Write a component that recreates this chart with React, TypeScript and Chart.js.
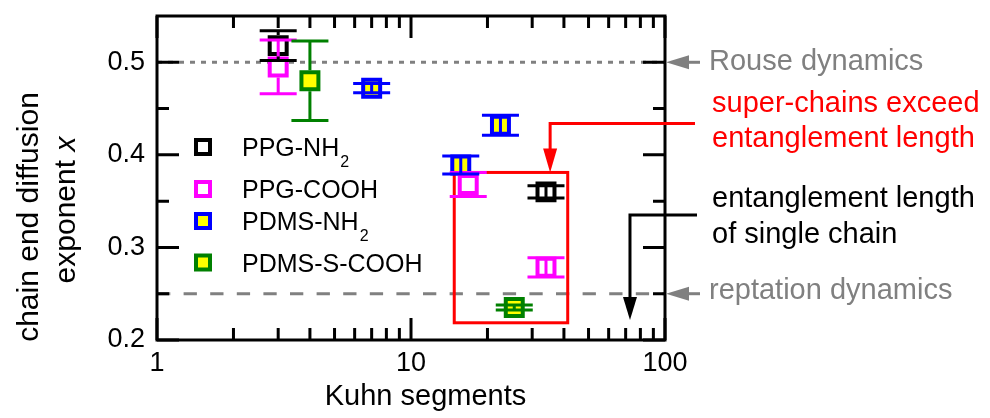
import React, { useEffect, useRef } from 'react';
import { Chart, registerables } from 'chart.js';

Chart.register(...registerables);

// ---------------- data ----------------
const SERIES_NAMES = ['PPG-NH', 'PPG-COOH', 'PDMS-NH', 'PDMS-S-COOH'];
const SERIES_SUBSCRIPTS = ['2', '', '2', ''];

const PPG_NH2_X = [3.0, 34.0];
const PPG_NH2_Y = [0.518, 0.36];
const PPG_NH2_ERR = [0.016, 0.0065];

const PPG_COOH_X = [3.0, 16.8, 34.0];
const PPG_COOH_Y = [0.495, 0.368, 0.2785];
const PPG_COOH_ERR = [0.029, 0.013, 0.0104];

const PDMS_NH2_X = [7.0, 15.7, 22.5];
const PDMS_NH2_Y = [0.472, 0.389, 0.432];
const PDMS_NH2_ERR = [0.005, 0.0098, 0.0108];

const PDMS_SCOOH_X = [4.0, 25.5];
const PDMS_SCOOH_Y = [0.48, 0.235];
const PDMS_SCOOH_ERR = [0.043, 0.0027];

const X_MAJOR_TICKS = [1, 10, 100];
const X_MINOR_TICKS = [2, 3, 4, 5, 6, 7, 8, 9, 20, 30, 40, 50, 60, 70, 80, 90];
const Y_MAJOR_TICKS = [0.2, 0.3, 0.4, 0.5];
const Y_MINOR_TICKS = [0.25, 0.35, 0.45];

const X_MIN = 1;
const X_MAX = 100;
const Y_MIN = 0.2;
const Y_MAX = 0.55;

const ROUSE_Y = 0.5;
const REPTATION_Y = 0.25;
const BOX_X = [14.8, 41.4];
const BOX_Y = [0.2186, 0.381];
const SUPER_ARROW_X = 35.3;
const SUPER_ARROW_Y = 0.434;
const ENT_ARROW_X = 72.8;
const ENT_ARROW_Y = 0.335;
const ENT_ARROW_TIP_Y = 0.2215;

const X_TITLE = 'Kuhn segments';
const Y_TITLE_1 = 'chain end diffusion';
const Y_TITLE_2 = 'exponent ';
const Y_TITLE_VAR = 'x';
const ROUSE_LABEL = 'Rouse dynamics';
const REPTATION_LABEL = 'reptation dynamics';
const SUPER_LABEL = ['super-chains exceed', 'entanglement length'];
const ENT_LABEL = ['entanglement length', 'of single chain'];

// ---------------- styles ----------------
const FONT = "'Liberation Sans', Arial, Helvetica, sans-serif";
const GRAY = '#808080';
const RED = '#ff0000';
const BORDERS = ['#000000', '#ff00ff', '#0000ff', '#008000'];
const FILLS = ['#ffffff', '#ffffff', '#ffff00', '#ffff00'];
const ERRS = [PPG_NH2_ERR, PPG_COOH_ERR, PDMS_NH2_ERR, PDMS_SCOOH_ERR];

function pts(xs: number[], ys: number[]) {
  return xs.map((x, i) => ({ x, y: ys[i] }));
}

function arrowHead(ctx: CanvasRenderingContext2D, tx: number, ty: number, dir: 'left' | 'down', len: number, hw: number, color: string) {
  ctx.fillStyle = color;
  ctx.beginPath();
  if (dir === 'left') {
    ctx.moveTo(tx, ty);
    ctx.lineTo(tx + len, ty - hw);
    ctx.lineTo(tx + len, ty + hw);
  } else {
    ctx.moveTo(tx, ty);
    ctx.lineTo(tx - hw, ty - len);
    ctx.lineTo(tx + hw, ty - len);
  }
  ctx.closePath();
  ctx.fill();
}

const customPlugin = {
  id: 'customDecor',
  beforeDatasetsDraw(chart: any) {
    const { ctx, chartArea: a, scales } = chart;
    const xs = scales.x;
    const ys = scales.y;
    ctx.save();
    ctx.lineWidth = 3;
    ctx.strokeStyle = GRAY;
    ctx.lineCap = 'butt';
    // Rouse (dotted)
    const yr = ys.getPixelForValue(ROUSE_Y);
    ctx.setLineDash([5, 6]);
    ctx.lineDashOffset = 0;
    ctx.beginPath();
    ctx.moveTo(a.left, yr);
    ctx.lineTo(a.right, yr);
    ctx.stroke();
    // reptation (dashed)
    const yp = ys.getPixelForValue(REPTATION_Y);
    ctx.setLineDash([13.3, 13.3]);
    ctx.beginPath();
    ctx.moveTo(a.left, yp);
    ctx.lineTo(a.right, yp);
    ctx.stroke();
    ctx.setLineDash([]);
    // red box
    const bx0 = xs.getPixelForValue(BOX_X[0]);
    const bx1 = xs.getPixelForValue(BOX_X[1]);
    const by0 = ys.getPixelForValue(BOX_Y[0]);
    const by1 = ys.getPixelForValue(BOX_Y[1]);
    ctx.strokeStyle = RED;
    ctx.strokeRect(bx0, by1, bx1 - bx0, by0 - by1);
    ctx.restore();
  },
  afterDatasetsDraw(chart: any) {
    const { ctx, chartArea: a, scales } = chart;
    const xs = scales.x;
    const ys = scales.y;
    ctx.save();

    // error bars
    const half = 10.5;
    const capHalf = 18.5;
    ctx.lineWidth = 3;
    chart.data.datasets.forEach((ds: any, di: number) => {
      const meta = chart.getDatasetMeta(di);
      ctx.strokeStyle = BORDERS[di];
      meta.data.forEach((el: any, i: number) => {
        const v = ds.data[i].y;
        const e = ERRS[di][i];
        const px = el.x;
        const py = el.y;
        const yt = ys.getPixelForValue(v + e);
        const yb = ys.getPixelForValue(v - e);
        ctx.beginPath();
        if (py - yt > half) {
          ctx.moveTo(px, yt);
          ctx.lineTo(px, py - half);
          ctx.moveTo(px, py + half);
          ctx.lineTo(px, yb);
        } else {
          ctx.moveTo(px, yt);
          ctx.lineTo(px, yb);
        }
        ctx.moveTo(px - capHalf, yt);
        ctx.lineTo(px + capHalf, yt);
        ctx.moveTo(px - capHalf, yb);
        ctx.lineTo(px + capHalf, yb);
        ctx.stroke();
      });
    });

    // frame
    ctx.strokeStyle = '#000';
    ctx.lineWidth = 3;
    ctx.strokeRect(a.left, a.top, a.right - a.left, a.bottom - a.top);

    // inward ticks
    const major = 22;
    const minor = 12;
    ctx.beginPath();
    const xt = (v: number, len: number) => {
      const p = xs.getPixelForValue(v);
      ctx.moveTo(p, a.bottom);
      ctx.lineTo(p, a.bottom - len);
      ctx.moveTo(p, a.top);
      ctx.lineTo(p, a.top + len);
    };
    const yt = (v: number, len: number) => {
      const p = ys.getPixelForValue(v);
      ctx.moveTo(a.left, p);
      ctx.lineTo(a.left + len, p);
      ctx.moveTo(a.right, p);
      ctx.lineTo(a.right - len, p);
    };
    X_MAJOR_TICKS.forEach((v) => xt(v, major));
    X_MINOR_TICKS.forEach((v) => xt(v, minor));
    Y_MAJOR_TICKS.forEach((v) => yt(v, major));
    Y_MINOR_TICKS.forEach((v) => yt(v, minor));
    ctx.stroke();

    // gray arrows (Rouse / reptation)
    const yr = ys.getPixelForValue(ROUSE_Y);
    const yp = ys.getPixelForValue(REPTATION_Y);
    ctx.strokeStyle = GRAY;
    ctx.lineWidth = 3;
    [yr, yp].forEach((yy) => {
      ctx.beginPath();
      ctx.moveTo(a.right + 20, yy);
      ctx.lineTo(a.right + 35, yy);
      ctx.stroke();
      arrowHead(ctx, a.right + 1, yy, 'left', 23, 7, GRAY);
    });

    // red arrow
    const sx = xs.getPixelForValue(SUPER_ARROW_X);
    const sy = ys.getPixelForValue(SUPER_ARROW_Y);
    const boxTop = ys.getPixelForValue(BOX_Y[1]);
    ctx.strokeStyle = RED;
    ctx.beginPath();
    ctx.moveTo(a.right + 30, sy);
    ctx.lineTo(sx, sy);
    ctx.lineTo(sx, boxTop - 20);
    ctx.stroke();
    arrowHead(ctx, sx, boxTop, 'down', 24, 7, RED);

    // black arrow
    const ex = xs.getPixelForValue(ENT_ARROW_X);
    const ey = ys.getPixelForValue(ENT_ARROW_Y);
    const etip = ys.getPixelForValue(ENT_ARROW_TIP_Y);
    ctx.strokeStyle = '#000';
    ctx.beginPath();
    ctx.moveTo(a.right + 32, ey);
    ctx.lineTo(ex, ey);
    ctx.lineTo(ex, etip - 20);
    ctx.stroke();
    arrowHead(ctx, ex, etip, 'down', 23, 7, '#000');

    // annotation texts
    ctx.font = `29px ${FONT}`;
    ctx.textBaseline = 'alphabetic';
    ctx.textAlign = 'left';
    const tx = a.right + 44;
    ctx.fillStyle = GRAY;
    ctx.fillText(ROUSE_LABEL, tx, yr + 8);
    ctx.fillText(REPTATION_LABEL, tx, yp + 5);
    ctx.fillStyle = RED;
    ctx.fillText(SUPER_LABEL[0], tx + 3, 111.5);
    ctx.fillText(SUPER_LABEL[1], tx + 3, 146.5);
    ctx.fillStyle = '#000';
    ctx.fillText(ENT_LABEL[0], tx + 3, 206.5);
    ctx.fillText(ENT_LABEL[1], tx + 3, 243);

    // legend
    const legendRows = [147, 189, 221, 262.5];
    ctx.lineWidth = 4;
    SERIES_NAMES.forEach((name, i) => {
      const cy = legendRows[i];
      ctx.fillStyle = FILLS[i];
      ctx.strokeStyle = BORDERS[i];
      ctx.fillRect(196, cy - 7, 14, 14);
      ctx.strokeRect(196, cy - 7, 14, 14);
      ctx.fillStyle = '#000';
      ctx.font = `25px ${FONT}`;
      ctx.fillText(name, 242, cy + 9);
      if (SERIES_SUBSCRIPTS[i]) {
        const w = ctx.measureText(name).width;
        ctx.font = `16px ${FONT}`;
        ctx.fillText(SERIES_SUBSCRIPTS[i], 242 + w + 1, cy + 20);
      }
    });

    // axis titles
    ctx.fillStyle = '#000';
    ctx.font = `29px ${FONT}`;
    ctx.textAlign = 'center';
    ctx.fillText(X_TITLE, 425.5, 405);

    ctx.save();
    ctx.translate(38, 217);
    ctx.rotate(-Math.PI / 2);
    ctx.font = `30px ${FONT}`;
    ctx.textAlign = 'center';
    ctx.fillText(Y_TITLE_1, 0, 0);
    ctx.restore();

    ctx.save();
    ctx.translate(75, 210);
    ctx.rotate(-Math.PI / 2);
    ctx.textAlign = 'left';
    ctx.font = `30px ${FONT}`;
    const w1 = ctx.measureText(Y_TITLE_2).width;
    ctx.font = `italic 30px ${FONT}`;
    const w2 = ctx.measureText(Y_TITLE_VAR).width;
    const start = -(w1 + w2) / 2;
    ctx.font = `30px ${FONT}`;
    ctx.fillText(Y_TITLE_2, start, 0);
    ctx.font = `italic 30px ${FONT}`;
    ctx.fillText(Y_TITLE_VAR, start + w1, 0);
    ctx.restore();

    ctx.restore();
  },
};

export default function App() {
  const ref = useRef<HTMLCanvasElement>(null);
  useEffect(() => {
    document.body.style.margin = '0';
    const datasets = [
      pts(PPG_NH2_X, PPG_NH2_Y),
      pts(PPG_COOH_X, PPG_COOH_Y),
      pts(PDMS_NH2_X, PDMS_NH2_Y),
      pts(PDMS_SCOOH_X, PDMS_SCOOH_Y),
    ].map((data, i) => ({
      label: SERIES_NAMES[i] + SERIES_SUBSCRIPTS[i],
      data,
      showLine: false,
      pointStyle: 'rect',
      pointRadius: 12,
      pointHoverRadius: 12,
      pointBorderWidth: 4,
      pointBorderColor: BORDERS[i],
      pointBackgroundColor: FILLS[i],
      borderColor: BORDERS[i],
      backgroundColor: FILLS[i],
    }));
    const chart = new Chart(ref.current as HTMLCanvasElement, {
      type: 'scatter',
      data: { datasets } as any,
      options: {
        animation: false,
        responsive: false,
        devicePixelRatio: 1,
        layout: { padding: { left: 0, top: 14, right: 325, bottom: 0 } },
        plugins: { legend: { display: false }, tooltip: { enabled: false } },
        scales: {
          x: {
            type: 'logarithmic',
            min: X_MIN,
            max: X_MAX,
            grid: { display: false, drawTicks: false },
            border: { display: false },
            afterBuildTicks: (s: any) => {
              s.ticks = X_MAJOR_TICKS.map((v) => ({ value: v }));
            },
            afterFit: (s: any) => {
              s.height = 78;
              s.paddingLeft = 0;
              s.paddingRight = 0;
            },
            ticks: {
              autoSkip: false,
              maxRotation: 0,
              padding: 7,
              color: '#000',
              font: { family: FONT, size: 27 },
              callback: (v: any) => String(v),
            },
          },
          y: {
            type: 'linear',
            min: Y_MIN,
            max: Y_MAX,
            grid: { display: false, drawTicks: false },
            border: { display: false },
            afterBuildTicks: (s: any) => {
              s.ticks = Y_MAJOR_TICKS.map((v) => ({ value: v }));
            },
            afterFit: (s: any) => {
              s.width = 157;
              s.paddingTop = 0;
              s.paddingBottom = 0;
            },
            ticks: {
              padding: 12,
              color: '#000',
              font: { family: FONT, size: 27 },
              callback: (v: any) => Number(v).toFixed(1),
            },
          },
        },
      } as any,
      plugins: [customPlugin],
    });
    return () => chart.destroy();
  }, []);
  return (
    <div style={{ width: 990, height: 418, position: 'relative' }}>
      <canvas ref={ref} width={990} height={418} style={{ display: 'block', width: 990, height: 418 }} />
    </div>
  );
}
